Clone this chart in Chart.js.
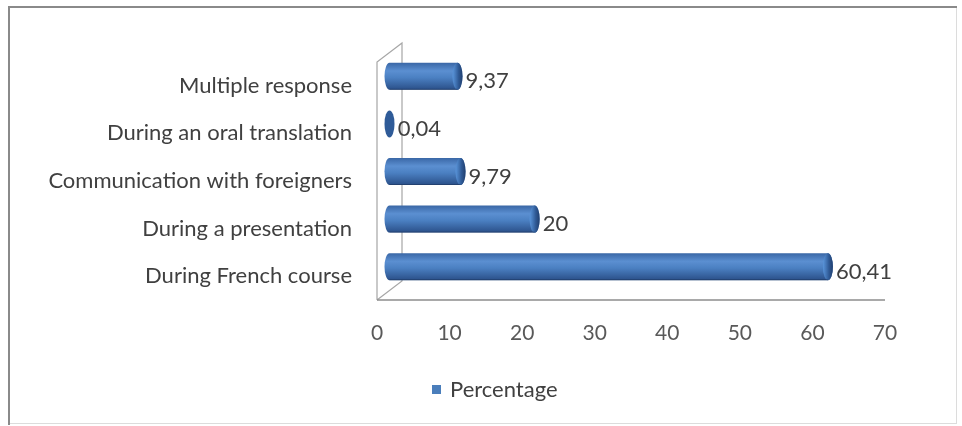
<!DOCTYPE html>
<html>
<head>
<meta charset="utf-8">
<script src="https://cdn.jsdelivr.net/npm/chart.js@4"></script>
<style>
  html, body { margin: 0; padding: 0; background: #fff; }
  #wrap { width: 962px; height: 426px; position: relative; }
</style>
</head>
<body>
<div id="wrap"><canvas id="chart" width="962" height="426"></canvas></div>
<script>
const categories = [
  'Multiple response',
  'During an oral translation',
  'Communication with foreigners',
  'During a presentation',
  'During French course'
];
const percentage = [9.37, 0.04, 9.79, 20, 60.41];
const xTicks = [0, 10, 20, 30, 40, 50, 60, 70];
const seriesName = 'Percentage';

const FONT = 'Lato, "Open Sans", sans-serif';
// depth of the 3D box and where the cylinders sit inside it
const DEPTH_X = 25, DEPTH_Y = -19;
const MID_X = DEPTH_X / 2, MID_Y = DEPTH_Y / 2;

function fmt(v) {
  return String(v).replace('.', ',');
}

// frame, walls, cylinders, value labels and legend
const cylinderPlugin = {
  id: 'cylinders',
  beforeDraw(chart) {
    const ctx = chart.ctx;
    const { left, right, top, bottom } = chart.chartArea;
    ctx.save();
    // outer border
    ctx.fillStyle = '#fff';
    ctx.fillRect(0, 0, chart.width, chart.height);
    ctx.strokeStyle = '#dcdcdc';
    ctx.lineWidth = 1;
    ctx.strokeRect(8.5, 6.5, 948, 417);
    ctx.strokeStyle = '#8a8a8a';
    ctx.lineWidth = 2;
    ctx.beginPath();
    ctx.moveTo(9, 425); ctx.lineTo(9, 7); ctx.lineTo(957, 7);
    ctx.stroke();

    // side wall and floor edges
    ctx.strokeStyle = '#a6a6a6';
    ctx.lineWidth = 1.2;
    ctx.beginPath();
    ctx.moveTo(left, bottom);
    ctx.lineTo(left, top);
    ctx.lineTo(left + DEPTH_X, top + DEPTH_Y);
    ctx.lineTo(left + DEPTH_X, bottom + DEPTH_Y);
    ctx.lineTo(left, bottom);
    ctx.stroke();
    ctx.strokeStyle = '#8c8c8c';
    ctx.lineWidth = 1.5;
    ctx.beginPath();
    ctx.moveTo(left, bottom);
    ctx.lineTo(right, bottom);
    ctx.stroke();
    ctx.restore();
  },
  afterDatasetsDraw(chart) {
    const ctx = chart.ctx;
    const meta = chart.getDatasetMeta(0);
    ctx.save();
    meta.data.forEach((bar, i) => {
      const x0 = bar.base + MID_X;
      const x1 = bar.x + MID_X;
      const cy = bar.y + MID_Y;
      const r = bar.height / 2;
      const rx = 5;
      const g = ctx.createLinearGradient(0, cy - r, 0, cy + r);
      g.addColorStop(0, '#3a67a6');
      g.addColorStop(0.3, '#5b8fd1');
      g.addColorStop(0.55, '#4b80c2');
      g.addColorStop(1, '#2a4f88');

      if (x1 - x0 < 2) {
        // almost zero: only the end disc shows
        ctx.fillStyle = '#2f5b98';
        ctx.beginPath();
        ctx.ellipse(x0, cy, rx, r, 0, 0, Math.PI * 2);
        ctx.fill();
      } else {
        ctx.fillStyle = g;
        ctx.beginPath();
        ctx.moveTo(x0, cy - r);
        ctx.lineTo(x1, cy - r);
        ctx.ellipse(x1, cy, rx, r, 0, -Math.PI / 2, Math.PI / 2);
        ctx.lineTo(x0, cy + r);
        ctx.ellipse(x0, cy, rx, r, 0, Math.PI / 2, Math.PI * 1.5);
        ctx.closePath();
        ctx.fill();
        // darker rim on the right end
        const eg = ctx.createLinearGradient(x1 - rx, 0, x1 + rx, 0);
        eg.addColorStop(0, 'rgba(90,150,220,0.9)');
        eg.addColorStop(0.6, '#2f5a96');
        eg.addColorStop(1, '#213f6e');
        ctx.fillStyle = eg;
        ctx.beginPath();
        ctx.ellipse(x1, cy, rx, r, 0, 0, Math.PI * 2);
        ctx.fill();
        ctx.strokeStyle = 'rgba(30,55,95,0.6)';
        ctx.lineWidth = 1;
        ctx.beginPath();
        ctx.moveTo(x0, cy + r - 0.5);
        ctx.lineTo(x1, cy + r - 0.5);
        ctx.stroke();
      }
      // value label
      ctx.fillStyle = '#404040';
      ctx.font = '22px ' + FONT;
      ctx.textAlign = 'left';
      ctx.textBaseline = 'middle';
      ctx.fillText(fmt(percentage[i]), x1 + rx + 3, cy + 5);
    });

    // legend
    const lx = 432, ly = 390;
    ctx.fillStyle = '#4a7ebb';
    ctx.fillRect(lx, ly - 5, 9, 9);
    ctx.fillStyle = '#404040';
    ctx.font = '22px ' + FONT;
    ctx.textBaseline = 'middle';
    ctx.fillText(seriesName, lx + 18, ly);
    ctx.restore();
  }
};

new Chart(document.getElementById('chart'), {
  type: 'bar',
  data: {
    labels: categories,
    datasets: [{
      label: seriesName,
      data: percentage,
      backgroundColor: 'rgba(0,0,0,0)',
      barThickness: 27
    }]
  },
  options: {
    indexAxis: 'y',
    responsive: false,
    animation: false,
    layout: { padding: { left: 0, right: 77, top: 62, bottom: 0 } },
    plugins: {
      legend: { display: false },
      tooltip: { enabled: false }
    },
    scales: {
      x: {
        min: 0,
        max: 70,
        afterFit: s => { s.height = 126; },
        afterBuildTicks: s => { s.ticks = xTicks.map(v => ({ value: v })); },
        grid: { display: false },
        border: { display: false },
        ticks: {
          padding: 13,
          color: '#595959',
          font: { family: FONT, size: 21 }
        }
      },
      y: {
        afterFit: s => { s.width = 377; },
        grid: { display: false },
        border: { display: false },
        ticks: {
          padding: 17,
          color: '#404040',
          font: { family: FONT, size: 22 }
        }
      }
    }
  },
  plugins: [cylinderPlugin]
});
</script>
</body>
</html>
